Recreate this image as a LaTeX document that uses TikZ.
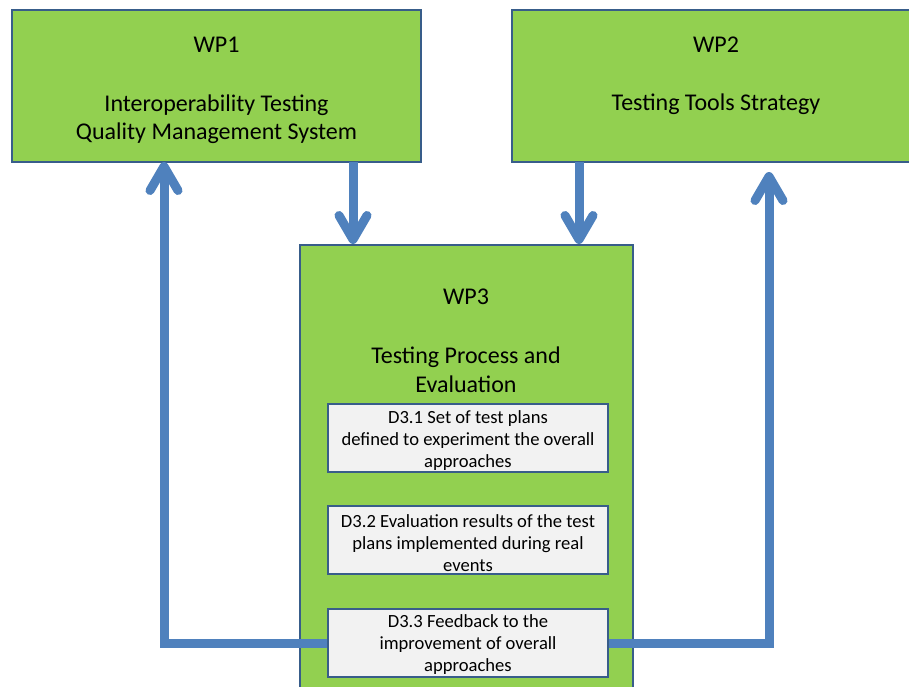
\documentclass[tikz,border=0pt]{standalone}
\usepackage{fontspec}
\setmainfont{Carlito}
\usetikzlibrary{arrows.meta}
\definecolor{boxgreen}{HTML}{92D050}
\definecolor{boxline}{HTML}{385D8A}
\definecolor{flowblue}{HTML}{4F81BD}
\definecolor{notegray}{HTML}{F2F2F2}
\tikzset{
  wpbox/.style={draw=boxline, line width=2pt, fill=boxgreen, rectangle, inner sep=0pt},
  wptext/.style={align=center, inner sep=0pt, font=\fontsize{24}{28.5}\selectfont},
  notebox/.style={draw=boxline, line width=2.2pt, fill=notegray, rectangle, inner sep=0pt,
    minimum width=280pt, minimum height=68pt, align=center, font=\fontsize{18.6}{22}\selectfont},
  notetext/.style={align=center, inner sep=0pt, font=\fontsize{18.6}{22}\selectfont},
  flow/.style={draw=flowblue, line width=9pt, -{Straight Barb[length=24pt,width=28pt,round]}}
}
\begin{document}
\begin{tikzpicture}[x=1pt,y=-1pt]
    \useasboundingbox (0,0) rectangle (909,687);
    % Paquetes de trabajo
    \node[wpbox, minimum width=409pt, minimum height=152pt] (wp1) at (216.5,86) {};
    \node[wptext] (wp1name) at (216.5,45) {WP1};
    \node[wptext] (wp1text) at (216.5,119) {Interoperability Testing\\Quality Management System};
    \node[wpbox, minimum width=410pt, minimum height=152pt] (wp2) at (717,86) {};
    \node[wptext] (wp2name) at (716,45) {WP2};
    \node[wptext] (wp2text) at (716,104) {Testing Tools Strategy};
    \node[wpbox, minimum width=333pt, minimum height=470pt] (wp3) at (466.5,480) {};
    \node[wptext] (wp3name) at (466,297) {WP3};
    \node[wptext] (wp3text) at (466,370) {Testing Process and\\Evaluation};
    % Entregables
    \node[notebox] (d31) at (468,438) {};
    \node[notetext] (d31text) at (468,441) {D3.1 Set of test plans\\defined to experiment the overall\\approaches};
    \node[notebox] (d32) at (468,540) {};
    \node[notetext] (d32text) at (468,543) {D3.2 Evaluation results of the test\\plans implemented during real\\events};
    \node[notebox] (d33) at (468,643) {};
    \node[notetext] (d33text) at (468,645) {D3.3 Feedback to the\\improvement of overall\\approaches};
    % Flechas
    \coordinate (in1) at (353,162);
    \coordinate (in2) at (579,162);
    \coordinate (back1) at (164,162);
    \coordinate (back2) at (769,172);
    \draw[flow] (in1) -- (in1 |- wp3.north);
    \draw[flow] (in2) -- (in2 |- wp3.north);
    \draw[flow] (d33.west) -| (back1);
    \draw[flow] (d33.east) -| (back2);
\end{tikzpicture}
\end{document}
